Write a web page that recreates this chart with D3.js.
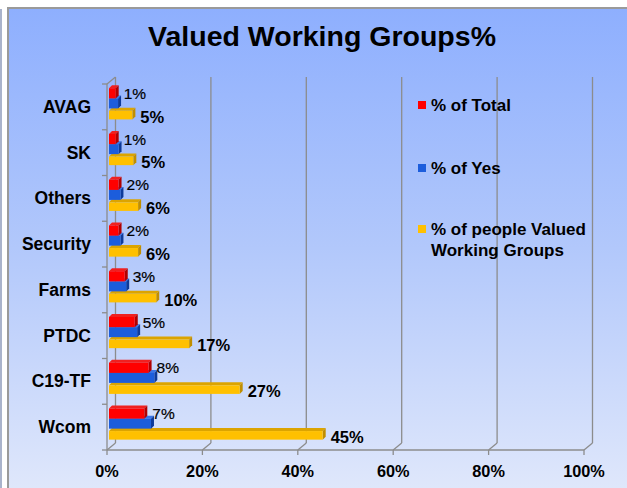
<!DOCTYPE html>
<html><head><meta charset="utf-8">
<script src="https://cdn.jsdelivr.net/npm/d3@7"></script>
<style>
body{margin:0;background:#fff}
svg{display:block}
text{font-family:"Liberation Sans",Arial,sans-serif;fill:#000}
</style>
</head><body>
<svg id="c" width="627" height="488"></svg>
<script>
// ---- data ----
const categories = ["AVAG","SK","Others","Security","Farms","PTDC","C19-TF","Wcom"];
const seriesNames = ["% of Total","% of Yes","% of people Valued Working Groups"];
const totalValues  = [1.4, 1.4, 2.0, 2.0, 3.3, 5.4, 8.3, 7.4];
const yesValues    = [1.9, 2.0, 2.4, 2.4, 3.6, 5.9, 9.5, 8.8];
const valuedValues = [4.9, 5.1, 6.1, 6.1, 9.9, 16.8, 27.4, 44.8];
const xTickValues  = [0, 20, 40, 60, 80, 100];
const titleText = "Valued Working Groups%";

// ---- layout ----
const svg = d3.select("#c");
const W = 627, H = 488;
const DX = 8.5, DY = 7;        // wall depth
const bdx = 3, bdy = 3;        // bar depth
const fmt = d3.format(".0%");

const defs = svg.append("defs");
const grad = defs.append("linearGradient").attr("id","bg").attr("x1",0).attr("y1",0).attr("x2",0).attr("y2",1);
grad.append("stop").attr("offset","0%").attr("stop-color","#8eaffe");
grad.append("stop").attr("offset","50%").attr("stop-color","#b2c8fb");
grad.append("stop").attr("offset","100%").attr("stop-color","#dfe7fb");

// frame
svg.append("rect").attr("x",0).attr("y",9).attr("width",2).attr("height",H-9).attr("fill","#a9b3cc");
svg.append("rect").attr("x",7).attr("y",7).attr("width",W-7).attr("height",H-7).attr("fill","#9a9a9a");
svg.append("rect").attr("x",9).attr("y",9).attr("width",W-9).attr("height",H-9).attr("fill","url(#bg)");

// title
svg.append("text").attr("x",322).attr("y",46).attr("text-anchor","middle")
  .attr("font-size",27).attr("font-weight","bold").attr("textLength",348).attr("lengthAdjust","spacingAndGlyphs")
  .text(titleText);

const x = d3.scaleLinear().domain([0,100]).range([107,584]);
const y = d3.scaleBand().domain(categories).range([84,450]);
const gridColor = "#8c8c8c";
const grid = svg.append("g").attr("stroke",gridColor).attr("stroke-width",1.3).attr("fill","none");

// back wall gridlines
xTickValues.forEach(t=>{
  grid.append("line").attr("x1",x(t)+DX).attr("x2",x(t)+DX).attr("y1",84-DY).attr("y2",450-DY);
  grid.append("line").attr("x1",x(t)).attr("x2",x(t)+DX).attr("y1",450).attr("y2",450-DY);
  grid.append("line").attr("x1",x(t)).attr("x2",x(t)).attr("y1",450).attr("y2",455);
});
// floor front edge
grid.append("line").attr("x1",x(0)).attr("x2",x(100)).attr("y1",450).attr("y2",450);
// left wall
grid.append("line").attr("x1",x(0)).attr("x2",x(0)).attr("y1",84).attr("y2",450);
grid.append("line").attr("x1",x(0)).attr("x2",x(0)+DX).attr("y1",84).attr("y2",84-DY);
// category ticks
const bounds = categories.map(c=>y(c)).concat([y.range()[1]]);
bounds.forEach(b=>{
  grid.append("line").attr("x1",x(0)-5).attr("x2",x(0)).attr("y1",b).attr("y2",b);
});

// x axis labels
svg.append("g").selectAll("text").data(xTickValues).join("text")
  .attr("x",d=>x(d)).attr("y",477).attr("text-anchor","middle")
  .attr("font-size",16.3).attr("font-weight","bold")
  .text(d=>fmt(d/100));

// category labels
svg.append("g").selectAll("text").data(categories).join("text")
  .attr("x",91).attr("y",c=>y(c)+y.bandwidth()/2+6).attr("text-anchor","end")
  .attr("font-size",17.5).attr("font-weight","bold")
  .text(c=>c);

// bars
const series = [
  {name:seriesNames[0], values:totalValues,  off:4.2,  h:10.2, front:"#ff0000", top:"#f02020", side:"#b00000"},
  {name:seriesNames[1], values:yesValues,    off:14.4, h:10,   front:"#1c5ddc", top:"#3a74e6", side:"#0d3a9a"},
  {name:seriesNames[2], values:valuedValues, off:26.8, h:8.6,  front:"#ffc000", top:"#dca400", side:"#c08e00"}
];
const xb = v => x(v) + 2;
const barsG = svg.append("g");
function drawBar(g, x0, x1, y0, h, s){
  g.append("polygon").attr("points",[[x0,y0],[x0+bdx,y0-bdy],[x1+bdx,y0-bdy],[x1,y0]].join(" ")).attr("fill",s.top);
  g.append("polygon").attr("points",[[x1,y0],[x1+bdx,y0-bdy],[x1+bdx,y0+h-bdy],[x1,y0+h]].join(" ")).attr("fill",s.side);
  g.append("rect").attr("x",x0).attr("y",y0).attr("width",Math.max(0,x1-x0)).attr("height",h).attr("fill",s.front);
}
for(let i=categories.length-1;i>=0;i--){
  const c = categories[i];
  for(let k=series.length-1;k>=0;k--){
    const s = series[k];
    drawBar(barsG, xb(0), xb(s.values[i]), y(c)+s.off, s.h, s);
  }
}

// data labels
const lab = svg.append("g");
categories.forEach((c,i)=>{
  const r = series[0], yl = series[2];
  lab.append("text").attr("x",xb(r.values[i])+bdx+5).attr("y",y(c)+r.off+r.h/2+5.5)
    .attr("font-size",15.5).attr("stroke","#000").attr("stroke-width",0.2).text(fmt(r.values[i]/100));
  lab.append("text").attr("x",xb(yl.values[i])+bdx+5).attr("y",y(c)+yl.off+yl.h/2+7.5)
    .attr("font-size",16.5).attr("font-weight","bold").text(fmt(yl.values[i]/100));
});

// legend
const legY = [105, 168, 229];
const leg = svg.append("g");
series.forEach((s,k)=>{
  leg.append("rect").attr("x",418).attr("y",legY[k]-4).attr("width",8).attr("height",8).attr("fill",s.front);
});
const legText = leg.append("g").attr("font-size",17).attr("font-weight","bold");
legText.append("text").attr("x",431).attr("y",legY[0]+6).text(seriesNames[0]);
legText.append("text").attr("x",431).attr("y",legY[1]+6).text(seriesNames[1]);
const t3 = legText.append("text").attr("x",431).attr("y",legY[2]+6);
t3.append("tspan").attr("x",431).text("% of people Valued");
t3.append("tspan").attr("x",431).attr("dy",21).text("Working Groups");
</script>
</body></html>
